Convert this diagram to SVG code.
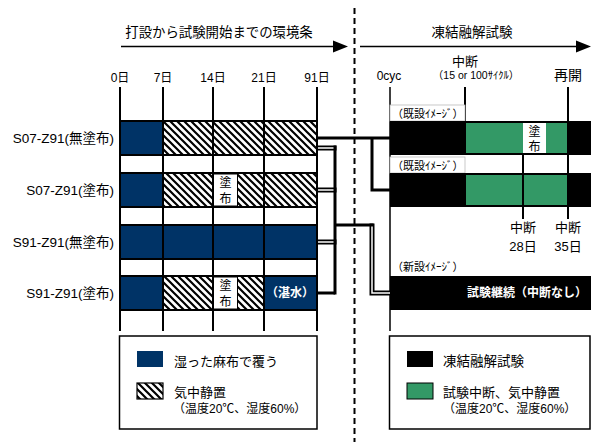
<svg xmlns="http://www.w3.org/2000/svg" width="592" height="442" viewBox="0 0 592 442">
<defs>
<pattern id="h" patternUnits="userSpaceOnUse" width="7" height="7">
<rect width="7" height="7" fill="#fff"/>
<path d="M0,0 L7,7 M-1,6 L1,8 M6,-1 L8,1" stroke="#000" stroke-width="2.2"/>
</pattern>
</defs>
<style>
text{font-family:'Liberation Sans','Noto Sans CJK JP',sans-serif;fill:#000}
.navy{fill:#003366}
.grn{fill:#339966}
.hatch{fill:url(#h)}
.frame{fill:none;stroke:#000;stroke-width:2}
.grid{stroke:#000;stroke-width:2}
.thick{stroke:#000;stroke-width:3;fill:none}
.dblo{stroke:#000;stroke-width:5;fill:none}
.dbli{stroke:#fff;stroke-width:1.5;fill:none}
.wbox{fill:#fff;stroke:#000;stroke-width:1}
.lbl{font-size:13.5px}
.day{font-size:12px;text-anchor:middle}
.wt{fill:#fff;font-weight:bold}
.small{font-size:11px}
.tag{fill:#fff;stroke:#bbb;stroke-width:0.8}
</style>

<g id="header-left">
<text x="219" y="37" font-size="13.4" text-anchor="middle">打設から試験開始までの環境条</text>
<line x1="121" y1="46.5" x2="335" y2="46.5" stroke="#000" stroke-width="1.5"/>
<polygon points="333,40.5 348,46.5 333,52.5" fill="#000"/>
</g>
<g id="header-right">
<text x="472" y="37" font-size="13.5" text-anchor="middle">凍結融解試験</text>
<line x1="360" y1="46.5" x2="578" y2="46.5" stroke="#000" stroke-width="1.5"/>
<polygon points="576,40.5 591,46.5 576,52.5" fill="#000"/>
</g>
<line id="divider" x1="354.5" y1="8" x2="354.5" y2="442" stroke="#000" stroke-width="2" stroke-dasharray="6 4"/>

<g id="day-axis">
<text class="day" x="120" y="82">0日</text>
<text class="day" x="163" y="82">7日</text>
<text class="day" x="213" y="82">14日</text>
<text class="day" x="264" y="82">21日</text>
<text class="day" x="317" y="82">91日</text>
</g>

<g id="row-s07-z91-mu">
<text class="lbl" x="114" y="143" text-anchor="end">S07-Z91(無塗布)</text>
<rect class="navy" x="120" y="121" width="43" height="34"/>
<rect class="hatch" x="163" y="121" width="154" height="34"/>
<rect class="frame" x="120" y="121" width="197" height="34"/>
</g>
<g id="row-s07-z91-to">
<text class="lbl" x="114" y="195" text-anchor="end">S07-Z91(塗布)</text>
<rect class="navy" x="120" y="173" width="43" height="34"/>
<rect class="hatch" x="163" y="173" width="154" height="34"/>
<rect class="wbox" x="213.5" y="174" width="24" height="32"/>
<text x="225.5" y="187" font-size="12" text-anchor="middle">塗</text>
<text x="225.5" y="203" font-size="12" text-anchor="middle">布</text>
<rect class="frame" x="120" y="173" width="197" height="34"/>
</g>
<g id="row-s91-z91-mu">
<text class="lbl" x="114" y="247" text-anchor="end">S91-Z91(無塗布)</text>
<rect class="navy" x="120" y="225" width="197" height="34"/>
<rect class="frame" x="120" y="225" width="197" height="34"/>
</g>
<g id="row-s91-z91-to">
<text class="lbl" x="114" y="298" text-anchor="end">S91-Z91(塗布)</text>
<rect class="navy" x="120" y="276" width="43" height="34"/>
<rect class="hatch" x="163" y="276" width="101" height="34"/>
<rect class="navy" x="264" y="276" width="53" height="34"/>
<rect class="wbox" x="213.5" y="277" width="24" height="32"/>
<text x="225.5" y="290" font-size="12" text-anchor="middle">塗</text>
<text x="225.5" y="306" font-size="12" text-anchor="middle">布</text>
<text class="wt" x="290" y="297" font-size="12" text-anchor="middle">（湛水）</text>
<rect class="frame" x="120" y="276" width="197" height="34"/>
</g>
<g id="day-grid">
<line class="grid" x1="120" y1="87" x2="120" y2="331"/>
<line class="grid" x1="163" y1="87" x2="163" y2="331"/>
<line class="grid" x1="213" y1="87" x2="213" y2="331"/>
<line class="grid" x1="264" y1="87" x2="264" y2="331"/>
<line class="grid" x1="317" y1="87" x2="317" y2="331"/>
</g>

<g id="cycle-axis">
<text x="465" y="66" font-size="13" text-anchor="middle">中断</text>
<text x="476" y="79" font-size="10.5" text-anchor="middle">（15 or 100ｻｲｸﾙ）</text>
<text x="389" y="80" font-size="12" text-anchor="middle">0cyc</text>
<text x="568" y="80" font-size="14" text-anchor="middle">再開</text>
<line x1="390" y1="87" x2="390" y2="331" stroke="#000" stroke-width="1.5"/>
<line class="grid" x1="465" y1="87" x2="465" y2="121"/>
<line class="grid" x1="568" y1="87" x2="568" y2="219"/>
<line class="grid" x1="523" y1="155" x2="523" y2="219"/>
<text x="523" y="232" font-size="13" text-anchor="middle">中断</text>
<text x="523" y="251" font-size="13" text-anchor="middle">28日</text>
<text x="568" y="232" font-size="13" text-anchor="middle">中断</text>
<text x="568" y="251" font-size="13" text-anchor="middle">35日</text>
</g>

<g id="ft-existing-1">
<rect class="tag" x="390" y="105" width="75" height="16"/>
<text class="small" x="392" y="118">（既設ｲﾒｰｼﾞ）</text>
<rect x="390" y="121" width="201" height="34" fill="#000"/>
<rect class="grn" x="466" y="123" width="57" height="30"/>
<rect x="523" y="123" width="23" height="30" fill="#fff"/>
<rect class="grn" x="546" y="123" width="21" height="30"/>
<text x="534.5" y="136" font-size="12" text-anchor="middle">塗</text>
<text x="534.5" y="151" font-size="12" text-anchor="middle">布</text>
</g>
<g id="ft-existing-2">
<rect class="tag" x="390" y="157" width="75" height="16"/>
<text class="small" x="392" y="170">（既設ｲﾒｰｼﾞ）</text>
<rect x="390" y="173" width="201" height="34" fill="#000"/>
<rect class="grn" x="466" y="175" width="101" height="30"/>
<line class="grid" x1="523" y1="173" x2="523" y2="207"/>
</g>
<g id="ft-new">
<text class="small" x="392" y="271">（新設ｲﾒｰｼﾞ）</text>
<rect x="390" y="276" width="201" height="34" fill="#000"/>
<text class="wt" x="587" y="297" font-size="12" text-anchor="end">試験継続（中断なし）</text>
</g>

<g id="connectors">
<path class="thick" d="M317,138 H390"/>
<path class="thick" d="M372,138 V190 H390"/>
<path class="thick" d="M335,145.5 V294.5"/>
<path class="thick" d="M317,293 H335"/>
<path class="thick" d="M335,225 H373.5"/>
<path class="dblo" d="M317,148 H336.5"/>
<path class="dbli" d="M318,148 H333.5"/>
<path class="dblo" d="M317,190 H336.5"/>
<path class="dbli" d="M318,190 H333.5"/>
<path class="dblo" d="M317,242 H336.5"/>
<path class="dbli" d="M318,242 H333.5"/>
<path class="dblo" d="M372,223.5 V293 H390"/>
<path class="dbli" d="M372,226.5 V293 H390"/>
</g>

<g id="legend-left">
<rect x="119.5" y="336" width="197.5" height="93" fill="#fff" stroke="#000" stroke-width="1.5"/>
<rect class="navy" x="137" y="351" width="26" height="16"/>
<text x="174" y="366" font-size="13">湿った麻布で覆う</text>
<rect x="137" y="383" width="26" height="16" fill="url(#h)" stroke="#000" stroke-width="1.2"/>
<text x="174" y="397" font-size="13">気中静置</text>
<text x="173" y="413" font-size="12">（温度20℃、湿度60%）</text>
</g>
<g id="legend-right">
<rect x="389.5" y="336" width="200.5" height="93" fill="#fff" stroke="#000" stroke-width="1.5"/>
<rect x="407" y="351" width="26" height="16" fill="#000"/>
<text x="443" y="366" font-size="13.5">凍結融解試験</text>
<rect class="grn" x="407" y="383" width="26" height="16" stroke="#000" stroke-width="1"/>
<text x="443" y="397" font-size="13">試験中断、気中静置</text>
<text x="443" y="413" font-size="12">（温度20℃、湿度60%）</text>
</g>
</svg>
